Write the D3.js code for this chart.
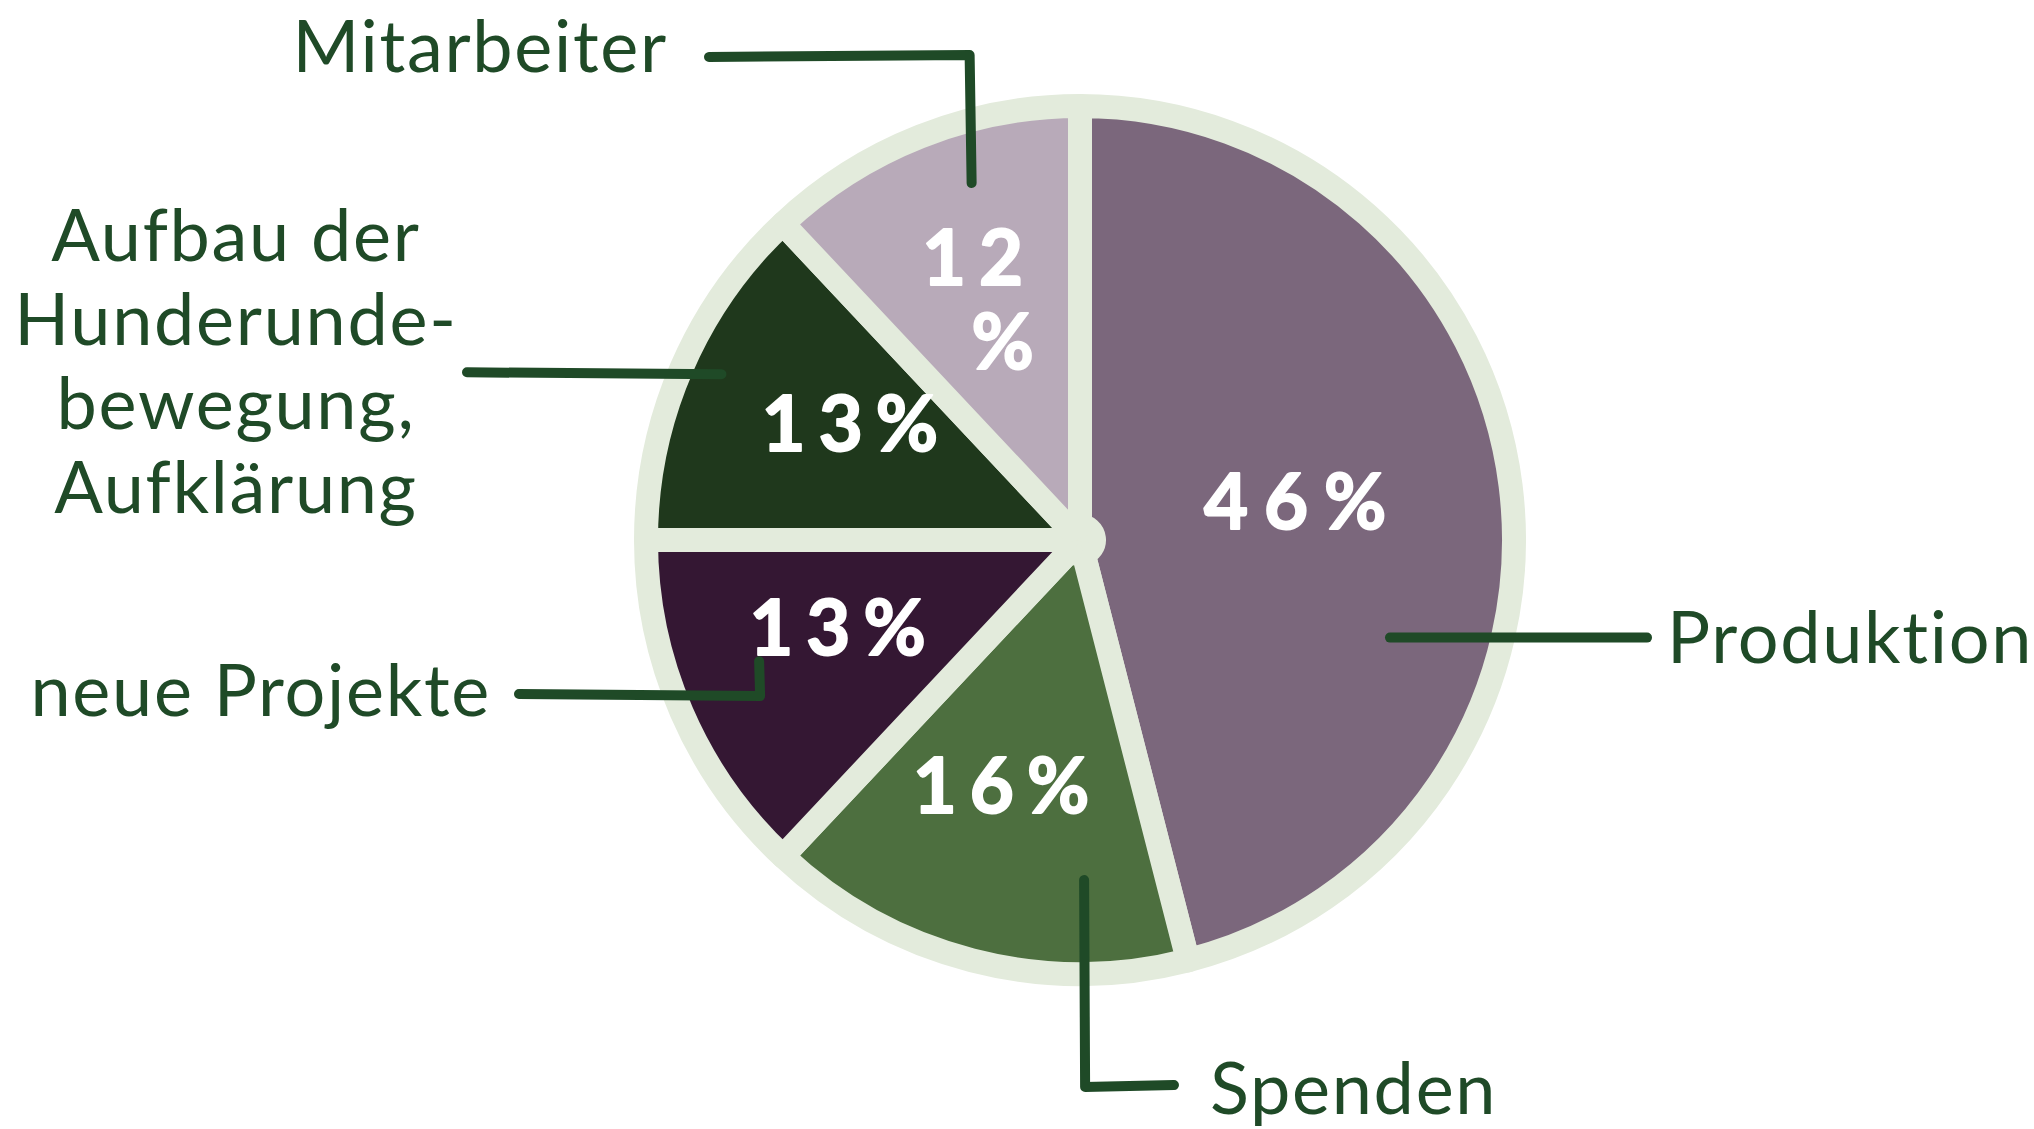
<!DOCTYPE html>
<html>
<head>
<meta charset="utf-8">
<script src="https://cdn.jsdelivr.net/npm/d3@7"></script>
<style>
  html, body { margin: 0; padding: 0; background: #ffffff; }
  svg { display: block; }
  text { font-variant-ligatures: none; font-feature-settings: "liga" 0, "clig" 0; }
</style>
</head>
<body>
<svg id="chart" width="2034" height="1129"></svg>
<script>
// ---- data ----
const categories = ["Produktion", "Spenden", "neue Projekte", "Aufbau der Hunderunde-bewegung, Aufklärung", "Mitarbeiter"];
const values = [46, 16, 13, 13, 12];
const labelLines = [
  ["Produktion"],
  ["Spenden"],
  ["neue Projekte"],
  ["Aufbau der", "Hunderunde-", "bewegung,", "Aufklärung"],
  ["Mitarbeiter"]
];
const percentLabels = ["46%", "16%", "13%", "13%", "12%"];

// ---- styles ----
const sliceColors = ["#7b677c", "#4d6f3f", "#341733", "#1f381c", "#b8aab9"];
const ringColor = "#e3ebdc";
const inkColor = "#1f4a27";

// ---- layout ----
const W = 2034, H = 1129;
const cx = 1080, cy = 540;
const ringR = 445, sliceR = 434, ringW = 24;
const pctSpacing = 13;

const svg = d3.select("#chart");
const g = svg.append("g").attr("transform", `translate(${cx},${cy})`);

const data = categories.map((c, i) => ({ name: c, value: values[i], i }));
const pie = d3.pie().value(d => d.value).sort(null).startAngle(0).endAngle(2 * Math.PI);
const arcs = pie(data);
const arc = d3.arc().innerRadius(14).outerRadius(sliceR);

// background ring
g.append("circle").attr("r", ringR).attr("fill", ringColor);

// slices
g.selectAll("path.slice").data(arcs).join("path")
  .attr("class", "slice")
  .attr("d", arc)
  .attr("fill", d => sliceColors[d.data.i])
  .attr("stroke", ringColor)
  .attr("stroke-width", ringW)
  .attr("stroke-linejoin", "round");

// percentage labels
const labelPos = d => {
  const big = d.data.value > 40;
  const small = d.data.value <= 12;
  const r = big ? 220 : 258;
  const a = (d.startAngle + d.endAngle) / 2 + (big ? -0.05 : small ? 0 : 0.06);
  return [r * Math.sin(a), -r * Math.cos(a)];
};
const pct = g.selectAll("text.pct").data(arcs).join("text")
  .attr("class", "pct")
  .attr("font-family", "Lato, 'Open Sans', sans-serif")
  .attr("font-weight", 700)
  .attr("font-size", 76)
  .attr("letter-spacing", d => d.data.value > 40 ? 16 : pctSpacing)
  .attr("fill", "#ffffff")
  .attr("stroke", "#ffffff")
  .attr("stroke-width", 2)
  .attr("stroke-linejoin", "round")
  .attr("text-anchor", "middle")
  .attr("transform", d => `translate(${labelPos(d)})`);
pct.each(function(d) {
  const t = d3.select(this);
  const label = percentLabels[d.data.i];
  if (d.data.value <= 12) {
    const num = label.replace("%", "");
    t.append("tspan").attr("x", -6).attr("dy", "-0.2em").text(num);
    t.append("tspan").attr("x", 24).attr("dy", "1.1em").text("%");
  } else {
    t.append("tspan").attr("x", pctSpacing / 2).attr("dy", "0.36em").text(label);
  }
});

// ---- leader lines (anchored in slices) + category labels ----
const polar = (a, r) => [cx + r * Math.sin(a), cy - r * Math.cos(a)];
const anchorOf = (i, t, r) => {
  const d = arcs[i];
  return polar(d.startAngle + t * (d.endAngle - d.startAngle), r);
};
const leaderSpecs = [
  { i: 0, t: 0.649, r: 325, route: p => [p, [1647, p[1]]],
    text: { x: 1667, y: 663, anchor: "start" } },
  { i: 1, t: 0.238, r: 340, route: p => [p, [p[0] + 1, 1087], [1174, 1085]],
    text: { x: 1210, y: 1114, anchor: "start" } },
  { i: 2, t: 0.558, r: 343, route: p => [p, [p[0] + 1, 696], [519, 694]],
    text: { x: 491, y: 716, anchor: "end" } },
  { i: 3, t: 0.53, r: 395, route: p => [p, [467, p[1] - 2]],
    text: { x: 236, y: 261, anchor: "middle" } },
  { i: 4, t: 0.609, r: 373, route: p => [p, [p[0] - 2, 55], [709, 57]],
    text: { x: 668, y: 72, anchor: "end" } }
];

const line = d3.line().curve(d3.curveLinear);
leaderSpecs.forEach(s => {
  const pts = s.route(anchorOf(s.i, s.t, s.r));
  svg.append("path")
    .attr("d", line(pts))
    .attr("fill", "none")
    .attr("stroke", inkColor)
    .attr("stroke-width", 10)
    .attr("stroke-linecap", "round")
    .attr("stroke-linejoin", "round");

  const txt = svg.append("text")
    .attr("font-family", "Lato, 'Open Sans', sans-serif")
    .attr("font-size", 72)
    .attr("letter-spacing", 1.7)
    .attr("fill", inkColor)
    .attr("text-anchor", s.text.anchor);
  labelLines[s.i].forEach((ln, k) => {
    txt.append("tspan").attr("x", s.text.x).attr("y", s.text.y + k * 84).text(ln);
  });
});
</script>
</body>
</html>
